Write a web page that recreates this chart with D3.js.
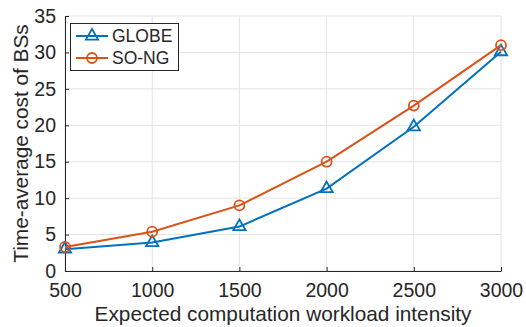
<!DOCTYPE html>
<html>
<head>
<meta charset="utf-8">
<script src="https://cdn.jsdelivr.net/npm/d3@7"></script>
<style>
  html, body { margin: 0; padding: 0; background: #fff; }
  svg { display: block; }
  text { font-family: "Liberation Sans", Arial, Helvetica, sans-serif; fill: #262626; }
</style>
</head>
<body>
<svg id="chart" width="526" height="327"></svg>
<script>
// Workload intensities on the x axis
const workloads = [500, 1000, 1500, 2000, 2500, 3000];
// Time-average cost per scheme
const globeCost = [3.0, 3.9, 6.1, 11.3, 19.8, 30.1];
const songCost  = [3.3, 5.4, 9.0, 15.0, 22.7, 31.0];
const xTicks = [500, 1000, 1500, 2000, 2500, 3000];
const yTicks = [0, 5, 10, 15, 20, 25, 30, 35];
const seriesNames = ["GLOBE", "SO-NG"];

const margin = { left: 65, top: 16, right: 25, bottom: 56 };
const W = 526, H = 327;
const svg = d3.select("#chart");

const x = d3.scaleLinear().domain([500, 3000]).range([margin.left, W - margin.right]);
const y = d3.scaleLinear().domain([0, 35]).range([H - margin.bottom, margin.top]);

// grid
const grid = svg.append("g").attr("stroke", "#e3e3e3").attr("stroke-width", 1);
xTicks.forEach(t => grid.append("line")
  .attr("x1", x(t)).attr("x2", x(t)).attr("y1", y(0)).attr("y2", y(35)));
yTicks.forEach(t => grid.append("line")
  .attr("x1", x(500)).attr("x2", x(3000)).attr("y1", y(t)).attr("y2", y(t)));

// axes
const xAxis = svg.append("g").attr("transform", `translate(0,${y(0)})`)
  .call(d3.axisBottom(x).tickValues(xTicks).tickFormat(d3.format("d")).tickSizeInner(-4).tickSizeOuter(0).tickPadding(12));
const yAxis = svg.append("g").attr("transform", `translate(${x(500)},0)`)
  .call(d3.axisLeft(y).tickValues(yTicks).tickFormat(d3.format("d")).tickSizeInner(-4).tickSizeOuter(0).tickPadding(9));
[xAxis, yAxis].forEach(a => {
  a.select(".domain").attr("stroke", "#262626").attr("stroke-width", 1);
  a.selectAll(".tick line").attr("stroke", "#262626");
  a.selectAll(".tick text").attr("font-size", 19.5).attr("fill", "#262626")
    .attr("font-family", "'Liberation Sans', Arial, sans-serif");
});

// axis titles
svg.append("text")
  .attr("x", (x(500) + x(3000)) / 2).attr("y", 321)
  .attr("text-anchor", "middle").attr("font-size", 20.8)
  .text("Expected computation workload intensity");
svg.append("text")
  .attr("transform", `translate(28,${(y(0) + y(35)) / 2}) rotate(-90)`)
  .attr("text-anchor", "middle").attr("font-size", 20.8)
  .text("Time-average cost of BSs");

const colors = ["#0072BD", "#D95319"];
const line = d3.line().x((d, i) => x(workloads[i])).y(d => y(d));
const tri = d3.symbol().type(d3.symbolTriangle).size(65);

function drawSeries(vals, color, marker) {
  const g = svg.append("g");
  g.append("path").datum(vals).attr("d", line)
    .attr("fill", "none").attr("stroke", color).attr("stroke-width", 2);
  vals.forEach((v, i) => {
    if (marker === "tri") {
      g.append("path").attr("d", tri)
        .attr("transform", `translate(${x(workloads[i])},${y(v)})`)
        .attr("fill", "none").attr("stroke", color).attr("stroke-width", 1.8);
    } else {
      g.append("circle").attr("cx", x(workloads[i])).attr("cy", y(v)).attr("r", 5)
        .attr("fill", "none").attr("stroke", color).attr("stroke-width", 1.8);
    }
  });
}
drawSeries(globeCost, colors[0], "tri");
drawSeries(songCost, colors[1], "circ");

// legend
const lg = svg.append("g");
lg.append("rect").attr("x", 70.5).attr("y", 23.5).attr("width", 108).attr("height", 47)
  .attr("fill", "#fff").attr("stroke", "#262626").attr("stroke-width", 1);
const rows = [36, 58];
seriesNames.forEach((name, i) => {
  lg.append("line").attr("x1", 76).attr("x2", 108).attr("y1", rows[i]).attr("y2", rows[i])
    .attr("stroke", colors[i]).attr("stroke-width", 2);
  if (i === 0) {
    lg.append("path").attr("d", tri).attr("transform", `translate(92,${rows[i]})`)
      .attr("fill", "none").attr("stroke", colors[i]).attr("stroke-width", 1.8);
  } else {
    lg.append("circle").attr("cx", 92).attr("cy", rows[i]).attr("r", 5)
      .attr("fill", "none").attr("stroke", colors[i]).attr("stroke-width", 1.8);
  }
  lg.append("text").attr("x", 112).attr("y", rows[i]).attr("dy", "0.35em")
    .attr("font-size", 17.5).text(name);
});
</script>
</body>
</html>
